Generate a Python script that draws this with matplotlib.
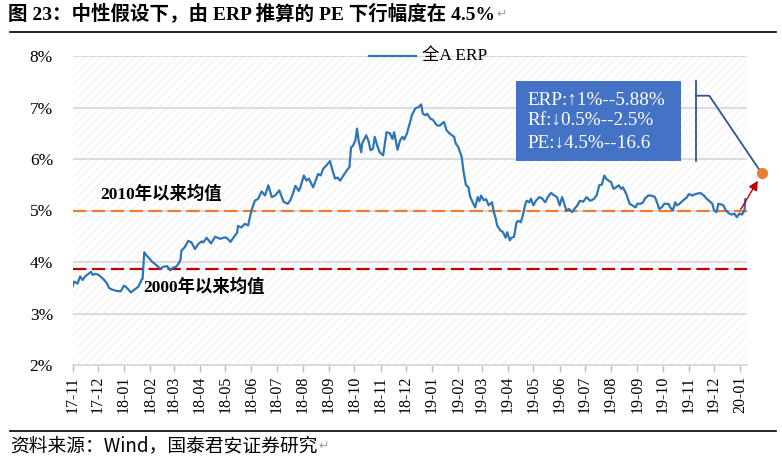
import matplotlib
matplotlib.use('Agg')
import matplotlib.pyplot as plt
import pandas as pd
from matplotlib.lines import Line2D
from matplotlib.patches import Rectangle, FancyArrowPatch
from matplotlib.ticker import MultipleLocator, FuncFormatter

# ---------------- data ----------------
start_date = '2017-11-01'
day_offset = [
    0, 2, 6, 9, 12, 15, 19, 22, 24, 27,
    31, 35, 37, 41, 43, 46, 52, 57, 61, 63,
    66, 69, 74, 78, 82, 83, 85, 88, 91, 94,
    97, 100, 104, 108, 112, 116, 119, 123, 126, 128,
    129, 133, 137, 141, 145, 149, 153, 155, 159, 164,
    169, 175, 181, 184, 187, 191, 195, 196, 200, 204,
    208, 212, 216, 220, 224, 228, 232, 236, 240, 245,
    247, 250, 255, 258, 261, 264, 268, 270, 274, 277,
    280, 283, 285, 289, 291, 294, 297, 301, 305, 308,
    311, 314, 317, 321, 325, 328, 330, 332, 335, 337,
    339, 342, 343, 348, 351, 353, 356, 358, 361, 364,
    368, 372, 376, 379, 381, 385, 388, 391, 393, 396,
    400, 402, 406, 410, 413, 415, 418, 420, 424, 427,
    430, 432, 435, 440, 443, 447, 452, 454, 457, 461,
    463, 466, 469, 471, 474, 477, 480, 482, 484, 487,
    490, 493, 497, 499, 501, 503, 507, 510, 513, 515,
    518, 520, 523, 526, 528, 531, 534, 536, 538, 541,
    543, 546, 549, 553, 556, 560, 563, 567, 570, 574,
    577, 580, 582, 585, 588, 592, 594, 598, 601, 605,
    609, 613, 615, 618, 621, 624, 627, 630, 632, 635,
    638, 641, 644, 647, 650, 652, 656, 660, 663, 667,
    669, 673, 676, 678, 682, 686, 690, 693, 695, 698,
    701, 706, 708, 711, 714, 716, 719, 723, 728, 730,
    734, 738, 744, 748, 751, 754, 758, 760, 763, 765,
    768, 771, 774, 778, 781, 784, 787, 790, 793, 796, 797,
]
erp_values = [
    3.52, 3.62, 3.58, 3.72, 3.65, 3.72, 3.77, 3.81, 3.75, 3.77,
    3.75, 3.69, 3.66, 3.58, 3.50, 3.47, 3.44, 3.43, 3.54, 3.52,
    3.47, 3.41, 3.47, 3.52, 3.66, 3.67, 4.19, 4.12, 4.07, 4.01,
    3.97, 3.93, 3.87, 3.91, 3.92, 3.84, 3.89, 3.91, 3.98, 4.05,
    4.22, 4.29, 4.41, 4.38, 4.25, 4.35, 4.40, 4.38, 4.47, 4.36,
    4.49, 4.45, 4.48, 4.45, 4.39, 4.48, 4.57, 4.70, 4.67, 4.74,
    4.71, 5.00, 5.19, 5.23, 5.37, 5.29, 5.49, 5.26, 5.29, 5.39,
    5.30, 5.17, 5.13, 5.20, 5.32, 5.48, 5.38, 5.45, 5.68, 5.58,
    5.62, 5.52, 5.45, 5.62, 5.71, 5.68, 5.81, 5.88, 5.96, 5.78,
    5.62, 5.64, 5.58, 5.68, 5.78, 5.84, 6.23, 6.25, 6.36, 6.59,
    6.35, 6.13, 6.30, 6.46, 6.33, 6.17, 6.20, 6.43, 6.26, 6.13,
    6.07, 6.52, 6.50, 6.39, 6.52, 6.18, 6.36, 6.43, 6.38, 6.49,
    6.72, 6.85, 6.98, 7.01, 7.06, 6.88, 6.85, 6.88, 6.78, 6.76,
    6.69, 6.65, 6.65, 6.72, 6.56, 6.49, 6.43, 6.30, 6.23, 6.04,
    5.78, 5.50, 5.45, 5.27, 5.16, 5.06, 5.26, 5.18, 5.29, 5.20,
    5.22, 5.10, 5.16, 4.97, 4.87, 4.71, 4.61, 4.58, 4.47, 4.58,
    4.42, 4.47, 4.49, 4.77, 4.80, 4.77, 4.94, 5.10, 5.19, 5.16,
    5.23, 5.10, 5.19, 5.26, 5.24, 5.16, 5.26, 5.34, 5.30, 5.26,
    5.10, 5.26, 5.16, 5.00, 5.03, 4.97, 5.02, 5.10, 5.19, 5.17,
    5.26, 5.19, 5.20, 5.23, 5.30, 5.49, 5.50, 5.68, 5.62, 5.58,
    5.55, 5.42, 5.45, 5.49, 5.42, 5.45, 5.32, 5.13, 5.10, 5.06,
    5.13, 5.13, 5.16, 5.23, 5.29, 5.29, 5.26, 5.13, 5.03, 5.06,
    5.13, 5.13, 5.06, 5.00, 5.16, 5.10, 5.13, 5.19, 5.26, 5.32,
    5.29, 5.32, 5.34, 5.29, 5.23, 5.19, 5.13, 5.00, 4.97, 5.13,
    5.12, 5.10, 5.00, 4.94, 4.92, 4.94, 4.87, 4.94, 4.92, 5.00, 5.22,
]
mean_2010 = 5.00
mean_2000 = 3.87
end_day = 799
tick_months = pd.date_range('2017-11-01', '2020-01-01', freq='MS')
tick_labels = [d.strftime('%y-%m') for d in tick_months]
series_name = '全A ERP'
label_2010 = '2010年以来均值'
label_2000 = '2000年以来均值'
box_lines = ['ERP:↑1%--5.88%', 'Rf:↓0.5%--2.5%', 'PE:↓4.5%--16.6']
title = '图 23：中性假设下，由 ERP 推算的 PE 下行幅度在 4.5%'
source = '资料来源：Wind，国泰君安证券研究'

# ---------------- style ----------------
plt.rcParams['font.family'] = ['Liberation Serif', 'Noto Sans CJK SC', 'DejaVu Sans']
plt.rcParams['hatch.linewidth'] = 0.5

W, H = 782, 457
def fx(x):
    return x / W
def fy(y):
    return 1 - y / H

fig = plt.figure(figsize=(W / 100, H / 100), dpi=100)
ax = fig.add_axes([fx(72.5), fy(365), (747 - 72.5) / W, (365 - 56) / H])

t0 = pd.Timestamp(start_date)
dates = t0 + pd.to_timedelta(day_offset, unit='D')

# hatched plot background
ax.add_patch(Rectangle((0, 0), 1, 1, transform=ax.transAxes, fc='white',
                       ec='#EBEBEB', hatch='////', lw=0, zorder=0))

ax.plot(dates, erp_values, color='#2E75B6', lw=1.6, zorder=4)
ax.axhline(mean_2010, color='#ED7D31', lw=1.6, dashes=(6, 2.5), zorder=3)
ax.axhline(mean_2000, color='#C00000', lw=1.6, dashes=(6, 2.5), zorder=3)

ax.set_ylim(2, 8)
ax.set_xlim(t0, t0 + pd.Timedelta(days=end_day))
ax.yaxis.set_major_locator(MultipleLocator(1))
ax.yaxis.set_major_formatter(FuncFormatter(lambda v, p: f'{v:.0f}%'))
ax.grid(axis='y', color='#D9D9D9', lw=1.3, zorder=1)
ax.set_axisbelow(True)
for s in ['top', 'left', 'right']:
    ax.spines[s].set_visible(False)
ax.spines['bottom'].set_color('#D9D9D9')
ax.spines['bottom'].set_linewidth(1.3)
ax.set_xticks(tick_months)
ax.set_xticklabels(tick_labels, rotation=90)
ax.tick_params(axis='y', length=0, pad=14, labelsize=12.5)
ax.tick_params(axis='x', length=5, color='#BFBFBF', width=1, labelsize=11.5, pad=3)

yt = ax.get_yaxis_transform()
ax.text((100 - 72.5) / 674.5, 5.31, label_2010, transform=yt,
        fontsize=12.5, fontweight='bold', va='center', ha='left', zorder=5)
ax.text((143 - 72.5) / 674.5, 3.51, label_2000, transform=yt,
        fontsize=12.5, fontweight='bold', va='center', ha='left', zorder=5)

# legend (manual, top centre)
fig.add_artist(Line2D([fx(369), fx(416)], [fy(56), fy(56)], color='#2E75B6', lw=1.6,
                      transform=fig.transFigure))
fig.text(fx(422), fy(56), series_name, fontsize=12.5, va='center', ha='left')

# annotation box
fig.add_artist(Rectangle((fx(515.7), fy(160.7)), (681 - 515.7) / W, (160.7 - 81) / H,
                         transform=fig.transFigure, fc='#4472C4', ec='none', zorder=5))
for i, line in enumerate(box_lines):
    fig.text(fx(527.5), fy(100 + i * 21.5), line, color='white', fontsize=13.8,
             va='center', ha='left', zorder=6,
             family=['Liberation Serif', 'DejaVu Serif'])

cc = '#2F5597'
fig.add_artist(Line2D([fx(695.7), fx(695.7)], [fy(81), fy(160.7)], color=cc, lw=1.3,
                      transform=fig.transFigure, zorder=6))
fig.add_artist(Line2D([fx(695.7), fx(709.3), fx(761.7)], [fy(95.7), fy(95.7), fy(173.3)],
                      color=cc, lw=1.3, transform=fig.transFigure, zorder=6))
fig.add_artist(FancyArrowPatch((fx(739.3), fy(211.7)), (fx(759.3), fy(178.3)),
                               transform=fig.transFigure, arrowstyle='-|>',
                               mutation_scale=14, color='#C00000', lw=1, zorder=6))
fig.add_artist(Line2D([fx(761.7)], [fy(173.3)], marker='o', ms=7, color='#ED7D31',
                      mec='#ED7D31', transform=fig.transFigure, zorder=7))

# title, rules and source
t_title = fig.text(fx(8), fy(14), title, fontsize=14, fontweight='bold',
                   va='center', ha='left')
t_src = fig.text(fx(10), fy(446), source, fontsize=13.5, va='center', ha='left',
                 family=['Noto Sans CJK SC', 'DejaVu Sans'])
fig.add_artist(Line2D([fx(10), fx(776)], [fy(32), fy(32)], color='black', lw=1.2,
                      transform=fig.transFigure))
fig.add_artist(Line2D([fx(10), fx(776)], [fy(431), fy(431)], color='black', lw=1.2,
                      transform=fig.transFigure))

fig.canvas.draw()
r = fig.canvas.get_renderer()
for t in (t_title, t_src):
    bb = t.get_window_extent(r)
    fig.text((bb.x1 + 1) / W, (bb.y0 + bb.y1) / 2 / H, '↵', fontsize=9, color='#A0A0A0',
             va='center', ha='left', family='DejaVu Sans')

fig.savefig('out.png', dpi=100)
